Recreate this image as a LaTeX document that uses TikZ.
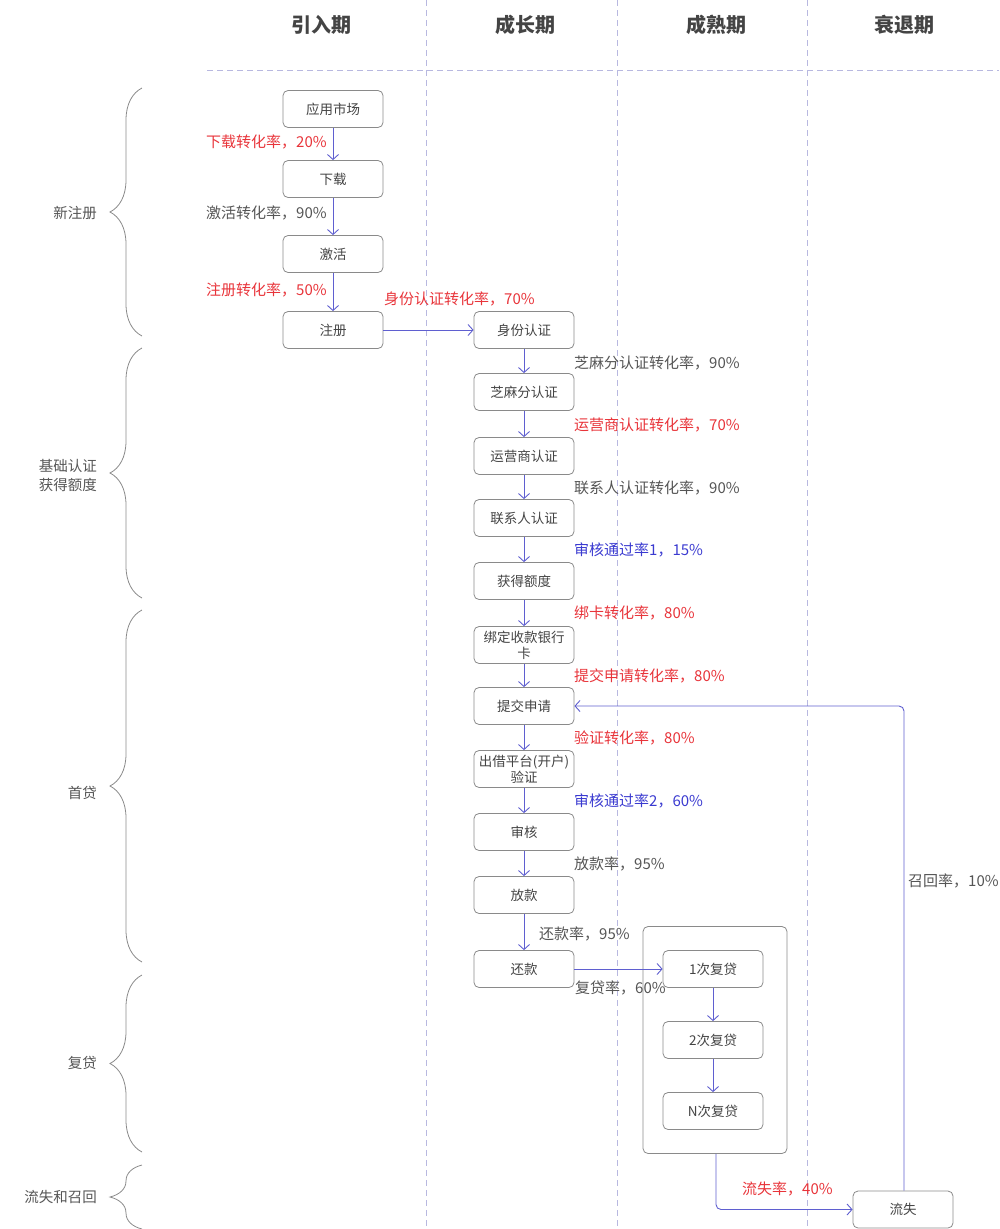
\documentclass[tikz,border=0pt]{standalone}
\usepackage{fontspec}
\setmainfont{Noto Sans CJK SC}
\usetikzlibrary{arrows.meta,decorations.pathreplacing}
\definecolor{arr}{HTML}{5F5FD0}
\definecolor{boxc}{HTML}{8A8A8A}
\definecolor{txt}{HTML}{444444}
\definecolor{redt}{HTML}{E8343A}
\definecolor{bluet}{HTML}{3A3AD0}
\definecolor{grayt}{HTML}{555555}
\definecolor{dashc}{HTML}{B8B8E0}
\begin{document}
\begin{tikzpicture}[x=1pt,y=-1pt,
  stagebox/.style={draw=boxc, line width=0.8pt, rounded corners=5pt, minimum width=100pt, minimum height=37pt, inner sep=1pt, align=center, text=txt, font=\fontsize{13.5}{16}\selectfont},
  flow/.style={draw=arr, line width=0.9pt, -{Straight Barb[length=5pt,width=11pt]}},
  lbl/.style={anchor=west, inner sep=0pt, font=\fontsize{15}{17}\selectfont},
  redl/.style={lbl, text=redt},
  bluel/.style={lbl, text=bluet},
  grayl/.style={lbl, text=grayt},
  header/.style={font=\fontsize{20}{22}\selectfont\bfseries, text=txt},
  side/.style={font=\fontsize{14.5}{19}\selectfont, text=grayt, align=center, inner sep=0pt},
  grid/.style={draw=dashc, line width=0.8pt, dash pattern=on 6pt off 4pt},
  bracestyle/.style={draw=boxc, line width=0.8pt, decorate, decoration={brace, amplitude=32pt, aspect=0.5}}
]
\useasboundingbox (0,0) rectangle (999,1229);

% grid lines
\draw[grid] (426,0) -- (426,1229);
\draw[grid] (617,0) -- (617,1229);
\draw[grid] (807,0) -- (807,1229);
\draw[grid] (207,70) -- (999,70);

% headers
\node[header] (h1) at (321,25) {引入期};
\node[header] (h2) at (525,25) {成长期};
\node[header] (h3) at (716,25) {成熟期};
\node[header] (h4) at (904,25) {衰退期};

% braces
\draw[bracestyle] (142,336) -- (142,88);
\draw[bracestyle] (142,598) -- (142,348);
\draw[bracestyle] (142,962) -- (142,610);
\draw[bracestyle] (142,1152) -- (142,975);
\draw[bracestyle] (142,1229) -- (142,1165);
\node[side, anchor=east] (s1) at (97,213) {新注册};
\node[side, anchor=east] (s2) at (97,476) {基础认证\\获得额度};
\node[side, anchor=east] (s3) at (97,793) {首贷};
\node[side, anchor=east] (s4) at (97,1063) {复贷};
\node[side, anchor=east] (s5) at (97,1197) {流失和召回};

% left column
\node[stagebox] (n1) at (333,109) {应用市场};
\node[stagebox] (n2) at (333,179) {下载};
\node[stagebox] (n3) at (333,254) {激活};
\node[stagebox] (n4) at (333,330) {注册};

% middle column
\node[stagebox] (m1) at (524,330) {身份认证};
\node[stagebox] (m2) at (524,392) {芝麻分认证};
\node[stagebox] (m3) at (524,456) {运营商认证};
\node[stagebox] (m4) at (524,518) {联系人认证};
\node[stagebox] (m5) at (524,581) {获得额度};
\node[stagebox] (m6) at (524,645) {绑定收款银行\\卡};
\node[stagebox] (m7) at (524,706) {提交申请};
\node[stagebox] (m8) at (524,769) {出借平台(开户)\\验证};
\node[stagebox] (m9) at (524,832) {审核};
\node[stagebox] (m10) at (524,895) {放款};
\node[stagebox] (m11) at (524,969) {还款};

% container and re-loan
\node[draw=boxc, line width=0.8pt, rounded corners=5pt, minimum width=144pt, minimum height=227pt, inner sep=0pt] (cont) at (715,1040) {};
\node[stagebox] (r1) at (713,969) {1次复贷};
\node[stagebox] (r2) at (713,1040) {2次复贷};
\node[stagebox] (r3) at (713,1111) {N次复贷};

% churn
\node[stagebox] (lost) at (903,1209.5) {流失};

% arrows
\draw[flow] (n1) -- (n2);
\draw[flow] (n2) -- (n3);
\draw[flow] (n3) -- (n4);
\draw[flow] (n4) -- (m1);
\draw[flow] (m1) -- (m2);
\draw[flow] (m2) -- (m3);
\draw[flow] (m3) -- (m4);
\draw[flow] (m4) -- (m5);
\draw[flow] (m5) -- (m6);
\draw[flow] (m6) -- (m7);
\draw[flow] (m7) -- (m8);
\draw[flow] (m8) -- (m9);
\draw[flow] (m9) -- (m10);
\draw[flow] (m10) -- (m11);
\draw[flow] (m11) -- (r1);
\draw[flow] (r1) -- (r2);
\draw[flow] (r2) -- (r3);
\draw[flow, rounded corners=5pt] (cont.south -| 716,0) -- (716,0 |- lost.west) -- (lost.west);
\draw[flow, rounded corners=5pt] (lost.north -| 904,0) -- (904,0 |- m7.east) -- (m7.east);

% labels
\node[redl] (l1) at (206,142) {下载转化率，20\%};
\node[grayl] (l2) at (206,213) {激活转化率，90\%};
\node[redl] (l3) at (206,290) {注册转化率，50\%};
\node[redl] (l4) at (384,299) {身份认证转化率，70\%};
\node[grayl] (l5) at (574,363) {芝麻分认证转化率，90\%};
\node[redl] (l6) at (574,425) {运营商认证转化率，70\%};
\node[grayl] (l7) at (574,488) {联系人认证转化率，90\%};
\node[bluel] (l8) at (574,550) {审核通过率1，15\%};
\node[redl] (l9) at (574,613) {绑卡转化率，80\%};
\node[redl] (l10) at (574,676) {提交申请转化率，80\%};
\node[redl] (l11) at (574,738) {验证转化率，80\%};
\node[bluel] (l12) at (574,801) {审核通过率2，60\%};
\node[grayl] (l13) at (574,864) {放款率，95\%};
\node[grayl] (l14) at (539,934) {还款率，95\%};
\node[grayl] (l15) at (575,988) {复贷率，60\%};
\node[redl] (l16) at (742,1189) {流失率，40\%};
\node[grayl] (l17) at (908,881) {召回率，10\%};
\end{tikzpicture}
\end{document}
